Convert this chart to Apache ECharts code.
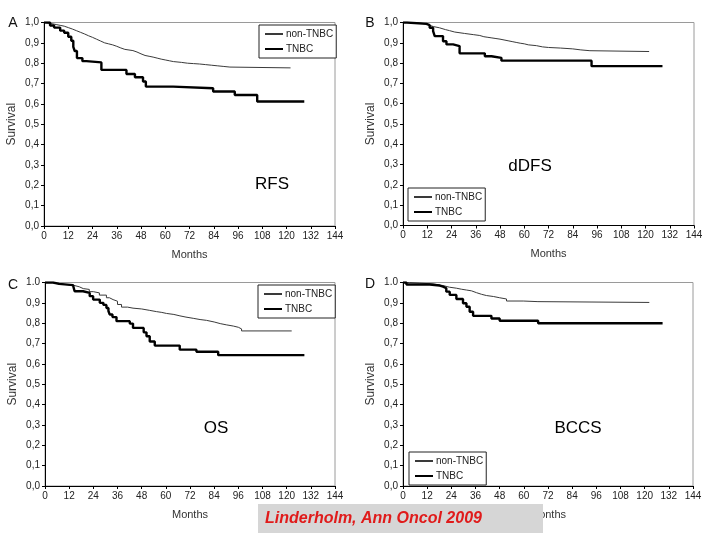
<!DOCTYPE html>
<html><head><meta charset="utf-8">
<script src="https://cdn.jsdelivr.net/npm/echarts@6/dist/echarts.min.js"></script>
<style>html,body{margin:0;padding:0;background:#fff}#c{width:720px;height:540px}</style>
</head><body><div id="c"></div>
<script>
// ---- data (months, survival) ----
const xTicks = [0,12,24,36,48,60,72,84,96,108,120,132,144];
const yTickLabelsComma = ['0,0','0,1','0,2','0,3','0,4','0,5','0,6','0,7','0,8','0,9','1,0'];
const yTickLabelsDot   = ['0,0','0,1','0,2','0,3','0,4','0,5','0,6','0,7','0,8','0,9','1.0'];
const panelLetters = ['A','B','C','D'];
const panelNames = ['RFS','dDFS','OS','BCCS'];
const seriesNames = ['non-TNBC','TNBC'];

const rfsNon = [[0,1],[1,0.997],[2,0.994],[4,0.99],[6,0.986],[8,0.982],[10,0.975],[12,0.968],[14,0.96],[16,0.952],[18,0.944],[20,0.935],[22,0.927],[24,0.918],[26,0.909],[28,0.9],[30,0.895],[32,0.89],[34,0.883],[36,0.875],[38,0.868],[40,0.862],[44,0.855],[46,0.846],[48,0.838],[50,0.834],[52,0.83],[54,0.825],[56,0.82],[58,0.816],[60,0.812],[62,0.808],[64,0.804],[68,0.8],[71,0.798],[74,0.796],[77,0.793],[80,0.79],[83,0.787],[86,0.784],[89,0.781],[92,0.777],[122,0.777]];
const rfsTn = [[0,1],[3,0.985],[5,0.975],[8,0.96],[10,0.95],[12,0.93],[13.5,0.91],[14.5,0.88],[15.2,0.86],[16.3,0.825],[19,0.81],[21,0.804],[28.4,0.767],[40.8,0.747],[45,0.731],[49,0.71],[50.4,0.685],[63.9,0.677],[83.7,0.661],[94.4,0.644],[105.5,0.612],[128.8,0.612]];

const ddfsNon = [[0,1],[5,0.997],[8,0.993],[11.6,0.987],[13,0.98],[15,0.974],[18,0.965],[21,0.96],[23,0.953],[25.6,0.946],[30.5,0.94],[35,0.936],[38,0.93],[40,0.927],[42,0.924],[44,0.921],[46,0.918],[48,0.914],[50,0.91],[52,0.906],[54,0.902],[56,0.898],[58,0.895],[60,0.89],[62,0.886],[66,0.88],[69,0.877],[72,0.874],[78,0.87],[84,0.865],[88,0.861],[92.5,0.857],[121.8,0.857]];
const ddfsTn = [[0,1],[2,0.993],[11.6,0.987],[13.2,0.974],[14.9,0.957],[15.7,0.933],[19.8,0.908],[21.5,0.892],[24.8,0.884],[28,0.848],[40.5,0.834],[43.8,0.826],[48.7,0.812],[93.3,0.785],[128.4,0.785]];

const osNon = [[0,1],[4,0.993],[7,0.987],[13.9,0.979],[17,0.97],[19,0.966],[22,0.955],[24,0.949],[27,0.938],[30.5,0.925],[32,0.916],[33.8,0.908],[36,0.892],[38,0.879],[41,0.874],[43.7,0.87],[48,0.863],[52,0.857],[55.3,0.853],[58,0.848],[60.3,0.843],[64,0.836],[67,0.83],[70,0.824],[73.6,0.818],[77,0.814],[80.2,0.806],[84,0.798],[87,0.792],[90,0.786],[93.5,0.78],[96,0.772],[97.6,0.762],[122.5,0.762]];
const osTn = [[0,1],[4,0.993],[7,0.987],[13.9,0.979],[14.7,0.957],[18.9,0.949],[22.2,0.933],[23.9,0.916],[27.2,0.9],[29,0.89],[30.5,0.875],[31.5,0.86],[32.1,0.843],[33.5,0.83],[35.5,0.81],[42.1,0.798],[43.7,0.777],[49,0.755],[50.4,0.736],[52,0.71],[54.5,0.69],[66.9,0.67],[75.2,0.66],[86,0.643],[128.8,0.643]];

const bccsNon = [[0,1],[3.3,0.997],[8.3,0.993],[14.9,0.985],[19.9,0.977],[23,0.972],[26.5,0.967],[29,0.963],[31.5,0.959],[34,0.95],[36.5,0.942],[39,0.936],[41.4,0.931],[45,0.925],[48,0.919],[51.4,0.909],[59.7,0.906],[67,0.902],[122.3,0.902]];
const bccsTn = [[0,1],[1.7,0.99],[13.3,0.985],[18.2,0.98],[19.9,0.972],[21.5,0.955],[23.2,0.939],[26.5,0.919],[29.8,0.898],[31.5,0.881],[33.1,0.856],[34.8,0.836],[43.9,0.823],[48,0.812],[67.1,0.8],[128.9,0.8]];

const panelData = [[rfsNon,rfsTn],[ddfsNon,ddfsTn],[osNon,osTn],[bccsNon,bccsTn]];

// ---- layout ----
const FONT = "'Liberation Sans', Arial, sans-serif";
const grids = [
  {left:44, top:22.5, width:291, height:203.5},
  {left:403, top:22.5, width:291, height:203},
  {left:45, top:282.5, width:290, height:203.5},
  {left:403, top:282.5, width:290, height:203.5}
];
const legendPos = [{left:259,top:25},{left:408,top:188},{left:258,top:285},{left:409,top:452}];
const letterPos = [[13,23],[370,23],[13,285],[370,284]];
const namePos = [[272,184],[530,166],[216,428],[578,428]];

const option = {
  animation:false,
  backgroundColor:'#fff',
  grid: grids.map(g=>Object.assign({show:true, borderColor:'#9a9a9a', borderWidth:1, backgroundColor:'transparent'}, g)),
  xAxis: grids.map((g,i)=>({
    gridIndex:i, type:'value', min:0, max:144, interval:12,
    name:'Months', nameLocation:'middle', nameGap:23,
    nameTextStyle:{fontFamily:FONT, fontSize:11, color:'#333'},
    axisLine:{show:true, onZero:false, lineStyle:{color:'#000', width:1}},
    axisTick:{show:true, length:3, lineStyle:{color:'#000'}},
    axisLabel:{fontFamily:FONT, fontSize:10, color:'#222', margin:5, formatter:v=>String(xTicks[Math.round(v/12)])},
    splitLine:{show:false}
  })),
  yAxis: grids.map((g,i)=>({
    gridIndex:i, type:'value', min:0, max:1, interval:0.1,
    name:'Survival', nameLocation:'middle', nameGap:26, nameRotate:90,
    nameTextStyle:{fontFamily:FONT, fontSize:12, color:'#333'},
    axisLine:{show:true, onZero:false, lineStyle:{color:'#000', width:1}},
    axisTick:{show:true, length:3, lineStyle:{color:'#000'}},
    axisLabel:{fontFamily:FONT, fontSize:10, color:'#222', margin:5,
      formatter:v=>(i<2?yTickLabelsComma:yTickLabelsDot)[Math.round(v*10)]},
    splitLine:{show:false}
  })),
  legend: legendPos.map(p=>({
    left:p.left, top:p.top, orient:'vertical',
    data:seriesNames, itemWidth:18, itemHeight:8, itemGap:5,
    padding:[4,3,4,5], borderColor:'#222', borderWidth:1, backgroundColor:'#fff',
    selectedMode:false,
    itemStyle:{color:'rgba(0,0,0,0)', borderColor:'rgba(0,0,0,0)', borderWidth:0},
    textStyle:{fontFamily:FONT, fontSize:10, color:'#222', padding:[0,0,0,-2]}
  })),
  series: [],
  graphic: []
};

panelData.forEach((pair,i)=>{
  option.series.push({
    name:seriesNames[0], type:'line', xAxisIndex:i, yAxisIndex:i, step:'end',
    symbol:'none', data:pair[0], lineStyle:{color:'#3a3a3a', width:1}, itemStyle:{color:'#3a3a3a'}, z:3
  });
  option.series.push({
    name:seriesNames[1], type:'line', xAxisIndex:i, yAxisIndex:i, step:'end',
    symbol:'none', data:pair[1], lineStyle:{color:'#000', width:2.4}, itemStyle:{color:'#000'}, z:4
  });
  option.graphic.push({type:'text', x:letterPos[i][0], y:letterPos[i][1],
    style:{text:panelLetters[i], fontFamily:FONT, fontSize:14, fill:'#111', align:'center', verticalAlign:'middle'}});
  option.graphic.push({type:'text', x:namePos[i][0], y:namePos[i][1],
    style:{text:panelNames[i], fontFamily:FONT, fontSize:17, fill:'#000', align:'center', verticalAlign:'middle'}});
});

option.graphic.push({type:'rect', z:100, shape:{x:258, y:504, width:285, height:29}, style:{fill:'#d6d6d6'}});
option.graphic.push({type:'text', z:101, x:265, y:518.5,
  style:{text:'Linderholm, Ann Oncol 2009', fontFamily:FONT, fontSize:16, fontWeight:'bold', fontStyle:'italic', fill:'#e01b1b', verticalAlign:'middle'}});

const chart = echarts.init(document.getElementById('c'), null, {renderer:'canvas'});
chart.setOption(option);
</script></body></html>
